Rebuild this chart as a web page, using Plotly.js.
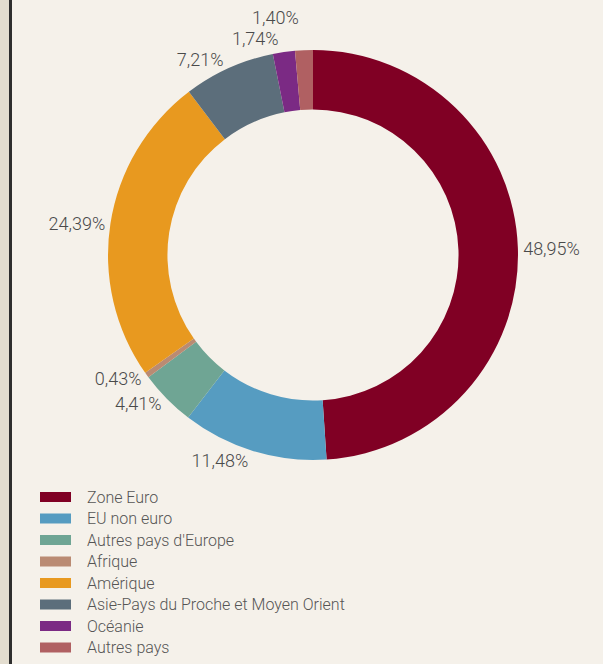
<!DOCTYPE html>
<html><head><meta charset="utf-8">
<script src="https://cdn.plot.ly/plotly-3.0.1.min.js"></script>
<style>html,body{margin:0;padding:0;background:#f5f1ea;} #chart path.textline{display:none;}</style>
</head><body>
<div id="chart" style="width:603px;height:664px;"></div>
<script>
const categories = ["Zone Euro","EU non euro","Autres pays d'Europe","Afrique","Amérique","Asie-Pays du Proche et Moyen Orient","Océanie","Autres pays"];
const values = [48.95, 11.48, 4.41, 0.43, 24.39, 7.21, 1.74, 1.40];
const colors = ["#800024","#569cc1","#6fa594","#ba8b73","#e8991f","#5c6e7b","#7b2a84","#b06062"];

const W = 603, H = 664;
const trace = {
  type: 'pie', labels: categories, values: values, sort: false, direction: 'clockwise', rotation: 0,
  hole: 0.71, marker: {colors: colors, line: {width: 0}},
  textposition: 'outside', texttemplate: '%{value:.2f}%',
  textfont: {family: 'Roboto', size: 18, weight: 300, color: '#4a4a4a'},
  showlegend: false, automargin: false,
  domain: {x: [108/W, 518/W], y: [1-460/H, 1-50/H]}
};

const shapes = [
  {type:'rect', xref:'paper', yref:'paper', x0:0, x1:9/W, y0:0, y1:1, fillcolor:'#e3ddcf', line:{width:0}},
  {type:'rect', xref:'paper', yref:'paper', x0:9/W, x1:12/W, y0:0, y1:1, fillcolor:'#2e2e2e', line:{width:0}}
];
const annotations = [];
const legTop = 497, legStep = 21.5;
categories.forEach((c, i) => {
  const yc = legTop + i*legStep;
  shapes.push({type:'rect', xref:'paper', yref:'paper', x0:40/W, x1:71/W, y0:1-(yc+5)/H, y1:1-(yc-5)/H, fillcolor:colors[i], line:{width:0}});
  annotations.push({xref:'paper', yref:'paper', x:85/W, y:1-yc/H, xanchor:'left', yanchor:'middle', showarrow:false, text:c, font:{family:'Roboto', size:16, weight:300, color:'#555555'}});
});

const layout = {
  width: W, height: H, margin: {l:0, r:0, t:0, b:0},
  paper_bgcolor: '#f5f1ea', plot_bgcolor: '#f5f1ea',
  separators: ',.', shapes: shapes, annotations: annotations, showlegend: false
};
Plotly.newPlot('chart', [trace], layout, {displayModeBar: false, staticPlot: true});
</script>
</body></html>
